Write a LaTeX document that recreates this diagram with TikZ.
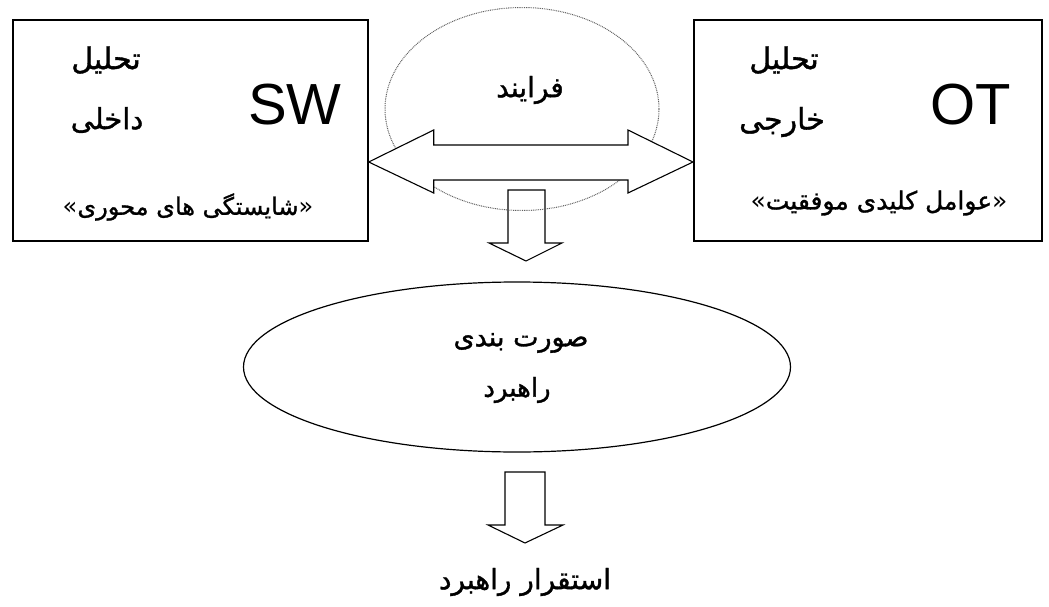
\documentclass[tikz,border=0pt]{standalone}
\usepackage{fontspec}
\setmainfont{Liberation Sans}
\newfontfamily\arabicfont[Script=Arabic,FakeBold=1.2]{DejaVu Sans}
\newfontfamily\quotefont{DejaVu Sans}
\TeXXeTstate=1
\usetikzlibrary{calc,shapes.geometric}
\newcommand{\fa}[2][21]{{\arabicfont\fontsize{#1}{#1}\selectfont\beginR #2\endR}}
\newcommand{\faq}[2][24]{{\fontsize{#1}{#1}\selectfont{\quotefont\char"00AB}{\arabicfont\beginR #2\endR}{\quotefont\char"00BB}}}
\begin{document}
\begin{tikzpicture}[x=1pt,y=-1pt,
  box/.style={draw, line width=1.7pt, minimum width=355, minimum height=221, anchor=north west, inner sep=0},
  txt/.style={inner sep=0, anchor=center},
  big/.style={txt, font=\fontsize{58}{60}\selectfont},
  blockarrow/.style={draw, line width=1.1pt, line join=miter, fill=white}]
\useasboundingbox (0,0) rectangle (1049,607);
\node[box] (sw) at (12,19) {};
\node[box, minimum width=348] (ot) at (693,19) {};
% down arrow 1 (below dotted ellipse)
\draw[blockarrow, fill=none] (508,190) -- (545,190) -- (545,243) -- (562,243) -- (526,261) -- (489,243) -- (508,243) -- cycle;
% dotted ellipse
\node[draw, dash pattern=on 0.9pt off 0.9pt, line width=1pt, gray!75!black, ellipse, minimum width=274, minimum height=203] (proc) at (522,109) {};
\node[txt] (proct) at (530,90) {\fa[28]{فرایند}};
% double arrow
\coordinate (L) at (sw.east |- 0,162);
\coordinate (R) at (ot.west |- 0,162);
\draw[blockarrow] (L) -- ++(65,-32) -- ++(0,15) -- ($(R)+(-65,-17)$) -- ++(0,-15) -- (R) -- ++(-65,31) -- ++(0,-13) -- ($(L)+(65,18)$) -- ++(0,13) -- cycle;
% left box texts
\node[txt] (swa) at (106,60) {\fa[30]{تحلیل}};
\node[txt] (swb) at (107,120) {\fa[29]{داخلی}};
\node[big] (swl) at (295,105) {SW};
\node[txt] (swc) at (188,207) {\faq[24]{شایستگی های محوری}};
% right box texts
\node[txt] (ota) at (784,60) {\fa[30]{تحلیل}};
\node[txt] (otb) at (782,122) {\fa[30]{خارجی}};
\node[big] (otl) at (971,105) {OT};
\node[txt] (otc) at (879,203) {\faq[25]{عوامل کلیدی موفقیت}};
% formulation ellipse
\node[draw, line width=1.2pt, ellipse, minimum width=547, minimum height=170] (form) at (517,367) {};
\node[txt] (forma) at (521,343) {\fa[27]{صورت بندی}};
\node[txt] (formb) at (517,390) {\fa[26]{راهبرد}};
% down arrow 2
\draw[blockarrow] (505,472) -- (545,472) -- (545,525) -- (563,525) -- (525,543) -- (488,525) -- (505,525) -- cycle;
\node[txt] (impl) at (525,582) {\fa[28]{استقرار راهبرد}};
\end{tikzpicture}
\end{document}
